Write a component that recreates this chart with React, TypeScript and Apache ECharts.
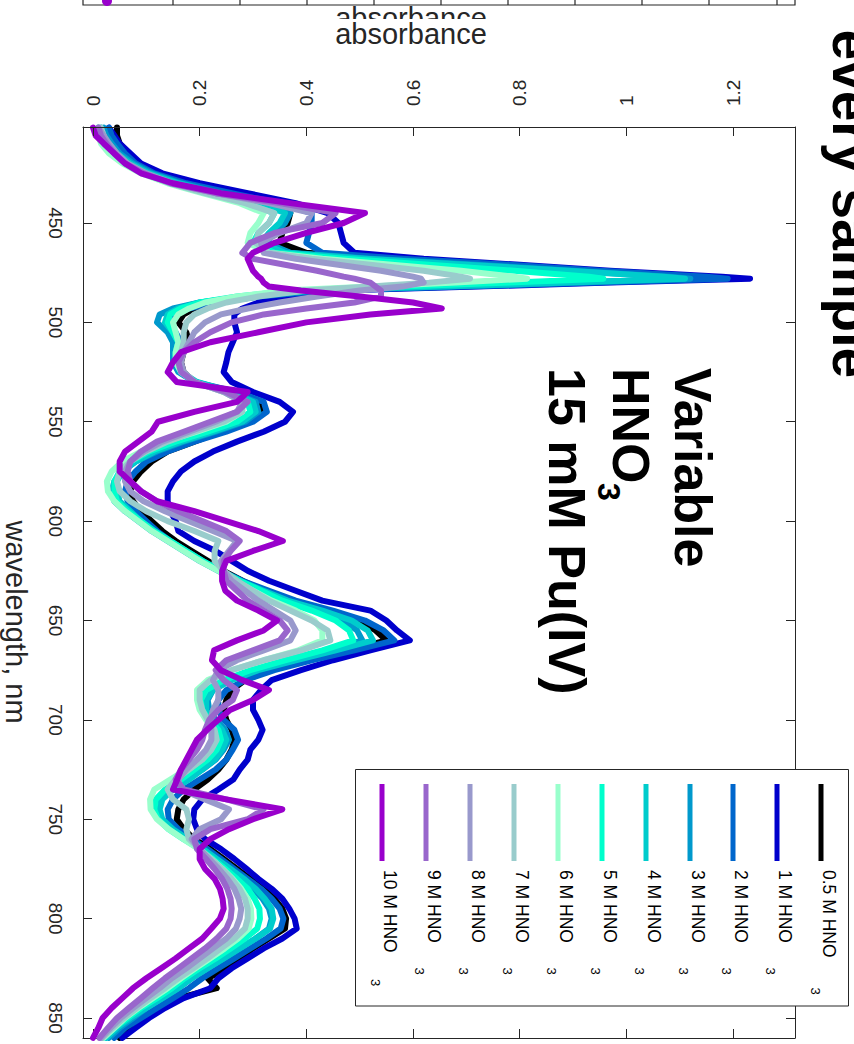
import { useEffect, useRef } from "react";
import * as echarts from "echarts";

// Wavelength grid (nm) shared by every spectrum
const wavelengthNm = [
  402, 406, 410, 415, 420, 425, 430, 435, 440, 445,
  450, 455, 460, 465, 468, 471, 474, 477, 478, 480,
  482, 484, 487, 490, 493, 496, 500, 505, 510, 515,
  520, 525, 530, 535, 540, 545, 550, 555, 560, 565,
  570, 575, 580, 585, 590, 595, 600, 605, 610, 615,
  620, 625, 630, 635, 640, 645, 650, 655, 660, 665,
  670, 675, 680, 685, 690, 695, 700, 705, 710, 715,
  720, 725, 730, 735, 740, 745, 750, 755, 760, 765,
  770, 775, 780, 785, 790, 795, 800, 805, 810, 815,
  820, 825, 830, 835, 840, 845, 850, 855, 860,
];

// Absorbance of 15 mM Pu(IV) at each HNO3 concentration
const abs05M = [
  0.045, 0.045, 0.05, 0.065, 0.085, 0.12, 0.18, 0.26, 0.33, 0.37,
  0.365, 0.355, 0.35, 0.4, 0.55, 0.75, 0.92, 1.12, 1.16, 0.93,
  0.68, 0.42, 0.3, 0.23, 0.19, 0.17, 0.16, 0.175, 0.18, 0.17,
  0.165, 0.17, 0.19, 0.26, 0.31, 0.315, 0.29, 0.24, 0.19, 0.14,
  0.11, 0.09, 0.075, 0.07, 0.075, 0.09, 0.11, 0.13, 0.155, 0.185,
  0.215, 0.245, 0.28, 0.32, 0.37, 0.44, 0.5, 0.53, 0.55, 0.48,
  0.4, 0.33, 0.285, 0.26, 0.25, 0.245, 0.25, 0.26, 0.265, 0.26,
  0.25, 0.235, 0.215, 0.19, 0.17, 0.16, 0.157, 0.17, 0.19, 0.22,
  0.245, 0.27, 0.295, 0.32, 0.34, 0.355, 0.362, 0.36, 0.33, 0.3,
  0.275, 0.25, 0.215, 0.232, 0.16, 0.13, 0.1, 0.07, 0.05,
];
const abs1M = [
  0.03, 0.04, 0.05, 0.07, 0.09, 0.13, 0.2, 0.29, 0.38, 0.44,
  0.46, 0.465, 0.47, 0.49, 0.62, 0.8, 0.97, 1.18, 1.232, 0.97,
  0.72, 0.46, 0.37, 0.31, 0.28, 0.265, 0.265, 0.27, 0.262, 0.254,
  0.25, 0.245, 0.26, 0.3, 0.35, 0.375, 0.36, 0.32, 0.27, 0.225,
  0.19, 0.165, 0.15, 0.14, 0.14, 0.145, 0.155, 0.16, 0.19, 0.23,
  0.26, 0.29, 0.33, 0.38, 0.43, 0.52, 0.55, 0.57, 0.594, 0.52,
  0.45, 0.39, 0.335, 0.315, 0.3, 0.3, 0.31, 0.318, 0.31, 0.295,
  0.29, 0.275, 0.263, 0.235, 0.205, 0.19, 0.188, 0.195, 0.21, 0.24,
  0.265, 0.288, 0.31, 0.335, 0.355, 0.368, 0.378, 0.382, 0.355, 0.32,
  0.29, 0.26, 0.235, 0.22, 0.17, 0.135, 0.105, 0.08, 0.055,
];
const abs2M = [
  0.03, 0.035, 0.045, 0.06, 0.08, 0.115, 0.175, 0.26, 0.35, 0.41,
  0.41, 0.405, 0.4, 0.43, 0.58, 0.78, 0.95, 1.15, 1.19, 0.95,
  0.7, 0.44, 0.31, 0.23, 0.18, 0.15, 0.14, 0.155, 0.165, 0.16,
  0.16, 0.165, 0.19, 0.27, 0.32, 0.326, 0.3, 0.25, 0.19, 0.14,
  0.1, 0.08, 0.065, 0.06, 0.065, 0.08, 0.1, 0.12, 0.145, 0.175,
  0.205, 0.24, 0.28, 0.33, 0.38, 0.45, 0.51, 0.545, 0.565, 0.49,
  0.41, 0.34, 0.285, 0.25, 0.235, 0.235, 0.245, 0.265, 0.272, 0.262,
  0.25, 0.23, 0.2, 0.17, 0.15, 0.14, 0.142, 0.16, 0.185, 0.215,
  0.24, 0.265, 0.29, 0.315, 0.335, 0.35, 0.357, 0.352, 0.325, 0.295,
  0.265, 0.235, 0.205, 0.18, 0.15, 0.12, 0.09, 0.06, 0.04,
];
const abs3M = [
  0.02, 0.025, 0.035, 0.05, 0.075, 0.11, 0.165, 0.24, 0.32, 0.37,
  0.36, 0.34, 0.325, 0.37, 0.52, 0.72, 0.9, 1.08, 1.12, 0.9,
  0.66, 0.42, 0.29, 0.2, 0.15, 0.125, 0.12, 0.14, 0.15, 0.15,
  0.15, 0.16, 0.19, 0.26, 0.305, 0.31, 0.285, 0.23, 0.17, 0.12,
  0.08, 0.055, 0.04, 0.035, 0.04, 0.06, 0.085, 0.11, 0.14, 0.17,
  0.2, 0.235, 0.27, 0.315, 0.36, 0.42, 0.47, 0.495, 0.505, 0.44,
  0.37, 0.3, 0.255, 0.225, 0.215, 0.218, 0.23, 0.248, 0.255, 0.245,
  0.23, 0.205, 0.175, 0.145, 0.125, 0.118, 0.125, 0.145, 0.175, 0.205,
  0.23, 0.255, 0.28, 0.3, 0.318, 0.33, 0.335, 0.33, 0.305, 0.275,
  0.245, 0.215, 0.185, 0.16, 0.13, 0.1, 0.075, 0.05, 0.03,
];
const abs4M = [
  0.015, 0.02, 0.03, 0.045, 0.07, 0.105, 0.16, 0.23, 0.31, 0.36,
  0.35, 0.33, 0.315, 0.36, 0.51, 0.7, 0.89, 1.07, 1.11, 0.89,
  0.65, 0.41, 0.28, 0.2, 0.16, 0.14, 0.135, 0.15, 0.16, 0.155,
  0.155, 0.165, 0.195, 0.26, 0.3, 0.305, 0.28, 0.225, 0.165, 0.115,
  0.08, 0.055, 0.045, 0.045, 0.05, 0.07, 0.09, 0.115, 0.145, 0.175,
  0.205, 0.24, 0.275, 0.32, 0.365, 0.43, 0.485, 0.515, 0.525, 0.455,
  0.38, 0.31, 0.26, 0.225, 0.212, 0.212, 0.225, 0.242, 0.25, 0.242,
  0.228, 0.205, 0.18, 0.15, 0.13, 0.125, 0.13, 0.15, 0.178, 0.207,
  0.232, 0.258, 0.283, 0.305, 0.322, 0.335, 0.338, 0.332, 0.305, 0.275,
  0.245, 0.215, 0.185, 0.16, 0.13, 0.1, 0.07, 0.045, 0.025,
];
const abs5M = [
  0.01, 0.01, 0.02, 0.035, 0.06, 0.095, 0.145, 0.21, 0.285, 0.34,
  0.33, 0.31, 0.3, 0.34, 0.47, 0.63, 0.79, 0.93, 0.957, 0.78,
  0.58, 0.38, 0.27, 0.2, 0.165, 0.145, 0.14, 0.15, 0.16, 0.155,
  0.155, 0.165, 0.19, 0.25, 0.29, 0.295, 0.27, 0.215, 0.155, 0.105,
  0.07, 0.05, 0.04, 0.04, 0.045, 0.065, 0.09, 0.115, 0.145, 0.175,
  0.205, 0.24, 0.275, 0.315, 0.355, 0.41, 0.455, 0.48, 0.488, 0.43,
  0.36, 0.295, 0.245, 0.212, 0.202, 0.205, 0.218, 0.235, 0.24, 0.232,
  0.215, 0.19, 0.165, 0.135, 0.118, 0.115, 0.122, 0.142, 0.17, 0.2,
  0.225, 0.248, 0.27, 0.29, 0.303, 0.312, 0.313, 0.308, 0.285, 0.258,
  0.23, 0.2, 0.172, 0.148, 0.12, 0.09, 0.065, 0.04, 0.02,
];
const abs6M = [
  0.01, 0.01, 0.015, 0.03, 0.055, 0.09, 0.14, 0.205, 0.275, 0.32,
  0.31, 0.295, 0.29, 0.33, 0.43, 0.56, 0.69, 0.79, 0.814, 0.68,
  0.52, 0.36, 0.27, 0.21, 0.18, 0.16, 0.15, 0.155, 0.16, 0.155,
  0.155, 0.165, 0.19, 0.245, 0.28, 0.28, 0.25, 0.195, 0.135, 0.09,
  0.055, 0.035, 0.026, 0.028, 0.04, 0.06, 0.085, 0.11, 0.14, 0.17,
  0.2, 0.235, 0.265, 0.3, 0.335, 0.38, 0.415, 0.43, 0.43, 0.385,
  0.32, 0.26, 0.215, 0.195, 0.195, 0.2, 0.212, 0.225, 0.228, 0.218,
  0.2, 0.175, 0.145, 0.115, 0.107, 0.108, 0.12, 0.142, 0.17, 0.198,
  0.222, 0.243, 0.262, 0.278, 0.29, 0.296, 0.297, 0.292, 0.272, 0.247,
  0.22, 0.192, 0.165, 0.14, 0.112, 0.085, 0.06, 0.04, 0.02,
];
const abs7M = [
  0.015, 0.02, 0.025, 0.04, 0.06, 0.095, 0.145, 0.21, 0.285, 0.34,
  0.33, 0.31, 0.305, 0.33, 0.41, 0.52, 0.62, 0.69, 0.707, 0.63,
  0.52, 0.4, 0.31, 0.25, 0.215, 0.19, 0.175, 0.17, 0.17, 0.165,
  0.16, 0.17, 0.19, 0.245, 0.28, 0.28, 0.245, 0.19, 0.14, 0.1,
  0.07, 0.05, 0.045, 0.05, 0.07, 0.1, 0.14, 0.19, 0.235, 0.228,
  0.228, 0.245, 0.27, 0.3, 0.33, 0.37, 0.41, 0.44, 0.445, 0.39,
  0.32, 0.26, 0.22, 0.2, 0.2, 0.205, 0.215, 0.228, 0.232, 0.222,
  0.205, 0.18, 0.155, 0.14, 0.15, 0.175, 0.18, 0.175, 0.18, 0.2,
  0.222, 0.242, 0.26, 0.275, 0.285, 0.29, 0.29, 0.285, 0.265, 0.24,
  0.215, 0.188, 0.16, 0.135, 0.108, 0.082, 0.058, 0.037, 0.018,
];
const abs8M = [
  0.01, 0.02, 0.03, 0.045, 0.065, 0.1, 0.15, 0.23, 0.33, 0.41,
  0.4, 0.35, 0.315, 0.32, 0.38, 0.46, 0.54, 0.6, 0.615, 0.62,
  0.58, 0.5, 0.42, 0.35, 0.29, 0.24, 0.21, 0.19, 0.18, 0.17,
  0.165, 0.17, 0.19, 0.245, 0.28, 0.27, 0.23, 0.18, 0.13, 0.095,
  0.07, 0.06, 0.06, 0.07, 0.095, 0.135, 0.18, 0.225, 0.27, 0.255,
  0.24, 0.245, 0.26, 0.285, 0.31, 0.34, 0.37, 0.38, 0.37, 0.32,
  0.27, 0.235, 0.225, 0.235, 0.235, 0.225, 0.22, 0.222, 0.222, 0.212,
  0.195, 0.175, 0.16, 0.165, 0.21, 0.255, 0.24, 0.2, 0.185, 0.2,
  0.218, 0.236, 0.252, 0.265, 0.273, 0.278, 0.275, 0.268, 0.25, 0.225,
  0.2, 0.175, 0.148, 0.125, 0.1, 0.075, 0.052, 0.033, 0.015,
];
const abs9M = [
  0.01, 0.015, 0.025, 0.04, 0.06, 0.095, 0.145, 0.23, 0.35, 0.455,
  0.43, 0.34, 0.295, 0.28, 0.3, 0.36, 0.42, 0.47, 0.49, 0.52,
  0.53, 0.54, 0.54, 0.49, 0.4, 0.32, 0.26, 0.22, 0.19, 0.17,
  0.16, 0.165, 0.19, 0.25, 0.29, 0.27, 0.22, 0.17, 0.12, 0.09,
  0.07, 0.065, 0.07, 0.09, 0.12, 0.16, 0.205, 0.25, 0.275, 0.258,
  0.245, 0.245, 0.25, 0.27, 0.29, 0.32, 0.35, 0.365, 0.35, 0.3,
  0.25, 0.23, 0.245, 0.27, 0.262, 0.235, 0.218, 0.21, 0.205, 0.195,
  0.18, 0.165, 0.155, 0.17, 0.25, 0.32, 0.29, 0.22, 0.19, 0.195,
  0.212, 0.228, 0.242, 0.252, 0.258, 0.26, 0.258, 0.25, 0.232, 0.21,
  0.185, 0.16, 0.135, 0.112, 0.09, 0.067, 0.045, 0.028, 0.012,
];
const abs10M = [
  0.0, 0.005, 0.02, 0.04, 0.06, 0.09, 0.15, 0.24, 0.37, 0.51,
  0.47, 0.4, 0.34, 0.3, 0.29, 0.295, 0.3, 0.31, 0.315, 0.32,
  0.33, 0.39, 0.5, 0.6, 0.654, 0.52, 0.4, 0.31, 0.22, 0.165,
  0.15, 0.14, 0.157, 0.29, 0.27, 0.19, 0.122, 0.11, 0.085, 0.06,
  0.05, 0.05, 0.07, 0.09, 0.12, 0.19, 0.25, 0.31, 0.356, 0.3,
  0.25, 0.242, 0.242, 0.248, 0.27, 0.31, 0.345, 0.32, 0.27, 0.227,
  0.223, 0.24, 0.28, 0.33, 0.3, 0.257, 0.235, 0.214, 0.195, 0.185,
  0.175, 0.165, 0.158, 0.15, 0.25, 0.355, 0.3, 0.255, 0.22, 0.2,
  0.2, 0.21, 0.228, 0.238, 0.243, 0.245, 0.238, 0.222, 0.205, 0.18,
  0.155, 0.128, 0.1, 0.075, 0.055, 0.035, 0.018, 0.01, 0.0,
];

const spectra = [abs05M, abs1M, abs2M, abs3M, abs4M, abs5M, abs6M, abs7M, abs8M, abs9M, abs10M];
const concentrations = ["0.5 M HNO", "1 M HNO", "2 M HNO", "3 M HNO", "4 M HNO", "5 M HNO", "6 M HNO", "7 M HNO", "8 M HNO", "9 M HNO", "10 M HNO"];
const lineColors = ["#000000", "#0000CC", "#0066CC", "#0099CC", "#00CCCC", "#00FFCC", "#99FFCC", "#99CCCC", "#9999CC", "#9966CC", "#9900CC"];

const absorbanceTicks = [0, 0.2, 0.4, 0.6, 0.8, 1, 1.2];
const wavelengthTicks = [450, 500, 550, 600, 650, 700, 750, 800, 850];
const strayTicks = [173, 240, 307, 374, 441, 508, 575, 642, 709, 777];

const FONT = '"Liberation Sans", Arial, Helvetica, sans-serif';
const INK = "#262626";
const CW = -Math.PI / 2; // quarter turn clockwise

function vText(x: number, y: number, text: string, size: number, bold: boolean, align = "left", z = 50, fill = "#000") {
  return {
    type: "text",
    x,
    y,
    rotation: CW,
    z,
    silent: true,
    style: {
      text,
      fill,
      fontSize: size,
      fontWeight: bold ? "bold" : "normal",
      fontFamily: FONT,
      align,
      textAlign: align,
      verticalAlign: "middle",
      textVerticalAlign: "middle",
    },
  };
}

function hText(x: number, y: number, text: string, size: number, z: number) {
  return {
    type: "text",
    x,
    y,
    z,
    silent: true,
    style: {
      text,
      fill: INK,
      fontSize: size,
      fontFamily: FONT,
      align: "center",
      textAlign: "center",
      verticalAlign: "middle",
      textVerticalAlign: "middle",
    },
  };
}

function buildOption() {
  const legendX = [821, 777, 733, 690, 646, 602, 558, 514, 470, 426, 382];
  const legendEls: any[] = [
    {
      type: "rect",
      z: 60,
      shape: { x: 355.5, y: 769.5, width: 493, height: 236.5 },
      style: { fill: "#fff", stroke: INK, lineWidth: 1 },
    },
  ];
  concentrations.forEach((label, i) => {
    const lx = legendX[i];
    legendEls.push({
      type: "line",
      z: 61,
      shape: { x1: lx, y1: 784, x2: lx, y2: 861 },
      style: { stroke: lineColors[i], lineWidth: 5 },
    });
    legendEls.push(vText(lx + 7.5, 870, label, 17.5, false, "left", 61));
    let sx = lx - 6.5;
    let sy = 971;
    if (i === 0) { sx = 815; sy = 991; }
    if (i === concentrations.length - 1) { sx = 375.5; sy = 982.5; }
    legendEls.push(vText(sx, sy, "3", 13, false, "center", 61));
  });

  const strayEls: any[] = [
    {
      type: "polyline",
      z: 1,
      shape: { points: [[83, 0], [83, 5], [795, 5], [795, 0]] },
      style: { stroke: INK, lineWidth: 1.2, fill: null },
    },
    ...strayTicks.map((x) => ({
      type: "line",
      z: 1,
      shape: { x1: x, y1: 0, x2: x, y2: 5 },
      style: { stroke: INK, lineWidth: 1.2 },
    })),
    {
      type: "ellipse",
      z: 2,
      shape: { cx: 107, cy: 1, rx: 5, ry: 5 },
      style: { fill: "#9900CC" },
    },
    hText(411, 17.5, "absorbance", 29, 3),
    { type: "rect", z: 4, shape: { x: 300, y: 19, width: 230, height: 30 }, style: { fill: "#fff" } },
    hText(411, 33.5, "absorbance", 29, 5),
  ];

  const graphic = [
    ...strayEls,
    vText(15.5, 622, "wavelength, nm", 29, false, "center", 5, INK),
    vText(693, 368, "Variable", 52, true, "left", 50),
    vText(631, 368, "HNO", 52, true, "left", 50),
    vText(608.5, 492, "3", 32, true, "center", 50),
    vText(567, 368, "15 mM Pu(IV)", 52, true, "left", 50),
    vText(852, 29.5, "every sample", 55, true, "left", 50),
    ...legendEls,
  ];

  const tickStyle = { show: true, inside: true, length: 9, lineStyle: { color: INK, width: 1 } };
  const lineStyle = { show: true, onZero: false, lineStyle: { color: INK, width: 1 } };
  const xRange = { min: -0.01875, max: 1.31625 };
  const yRange = { min: 401.7, max: 860.06 };

  return {
    animation: false,
    backgroundColor: "#fff",
    grid: { left: 83, top: 127, width: 712, height: 911, containLabel: false },
    xAxis: [
      {
        type: "value",
        position: "top",
        ...xRange,
        z: 10,
        axisLine: lineStyle,
        axisTick: { ...tickStyle, customValues: absorbanceTicks },
        splitLine: { show: false },
        axisLabel: {
          customValues: absorbanceTicks,
          rotate: -90,
          margin: 21,
          fontSize: 19,
          fontFamily: FONT,
          color: INK,
          padding: [0, 0, 8, 0],
        },
      },
      {
        type: "value",
        position: "bottom",
        ...xRange,
        axisLine: lineStyle,
        axisTick: { ...tickStyle, customValues: absorbanceTicks },
        splitLine: { show: false },
        axisLabel: { show: false },
      },
    ],
    yAxis: [
      {
        type: "value",
        position: "left",
        inverse: true,
        ...yRange,
        axisLine: lineStyle,
        axisTick: { ...tickStyle, customValues: wavelengthTicks },
        splitLine: { show: false },
        axisLabel: {
          customValues: wavelengthTicks,
          rotate: -90,
          margin: 18,
          fontSize: 19,
          fontFamily: FONT,
          color: INK,
        },
      },
      {
        type: "value",
        position: "right",
        inverse: true,
        ...yRange,
        axisLine: lineStyle,
        axisTick: { ...tickStyle, customValues: wavelengthTicks },
        splitLine: { show: false },
        axisLabel: { show: false },
      },
    ],
    series: spectra.map((vals, i) => ({
      name: concentrations[i],
      type: "line",
      xAxisIndex: 0,
      yAxisIndex: 0,
      showSymbol: false,
      symbol: "none",
      smooth: false,
      clip: true,
      lineStyle: { color: lineColors[i], width: 6, join: "round", cap: "round" },
      data: wavelengthNm.map((w, j) => [vals[j], w]),
    })),
    graphic,
  };
}

export default function App() {
  const ref = useRef<HTMLDivElement>(null);
  useEffect(() => {
    if (!ref.current) return;
    const chart = echarts.init(ref.current, null, { renderer: "svg" });
    chart.setOption(buildOption() as any);
    return () => chart.dispose();
  }, []);
  return (
    <div
      ref={ref}
      style={{ position: "absolute", left: 0, top: 0, width: 854, height: 1044, background: "#fff" }}
    />
  );
}
